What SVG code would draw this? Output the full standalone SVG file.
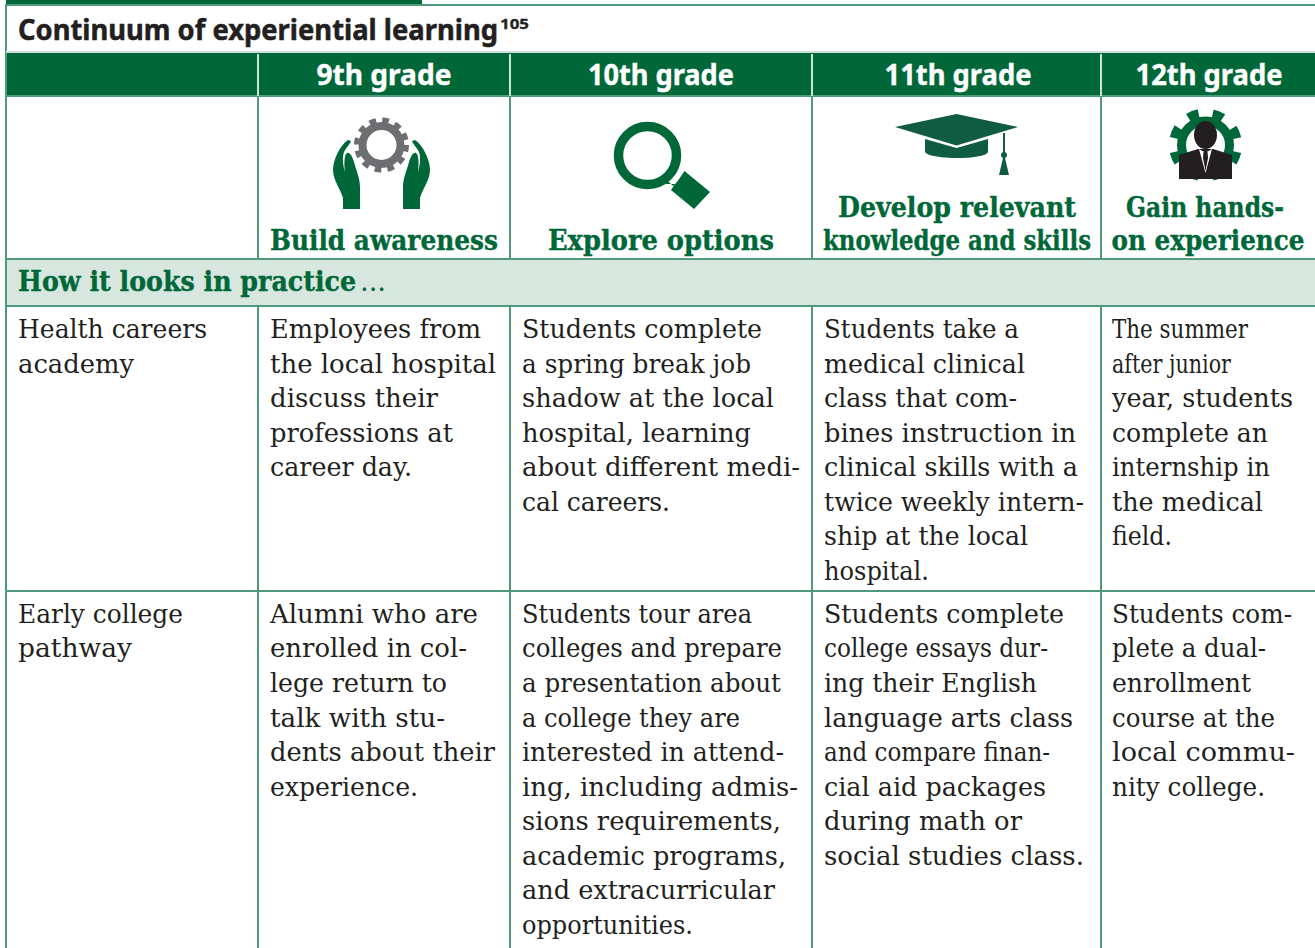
<svg xmlns="http://www.w3.org/2000/svg" width="1315" height="948" viewBox="0 0 1315 948">
<style>
.b{font-family:"DejaVu Serif","Liberation Serif",serif;font-size:26px;fill:#231f20}
.t{font-family:"Noto Sans","Liberation Sans",sans-serif;font-weight:700;font-size:28px;fill:#231f20;stroke:#231f20;stroke-width:.5}
.h{font-family:"Noto Sans","Liberation Sans",sans-serif;font-weight:700;font-size:28px;fill:#fff;stroke:#fff;stroke-width:.4;text-anchor:middle}
.g{font-family:"DejaVu Serif","Liberation Serif",serif;font-weight:700;font-size:28px;fill:#006838;stroke:#006838;stroke-width:.4}
.m{text-anchor:middle}
.l{stroke:#4f9a7b;stroke-width:2;fill:none}
.w{stroke:#cfe0d8;stroke-width:2;fill:none}
.d{fill:#006838}
.c{fill:#0f5c42}
.k{fill:#231f20}
</style>
<defs>
<path id="hand" d="M348 140C340 145 333 160 333 170C333 180 341 190 343 198V209H360V187C360 178 356 170 354 162C352 155 349 152 347 153C344 155 344 165 345 172C343 165 342 158 344 152C346 148 350 144 351 141Z"/>
</defs>
<rect width="1315" height="948" fill="#fff"/>
<g id="frame">
<rect class="d" x="6" y="0" width="416" height="5"/>
<rect x="6" y="52" width="1309" height="45" class="d"/>
<rect x="6" y="260" width="1309" height="47" fill="#d7e7e0"/>
</g>
<g id="connectors">
<path class="l" d="M6 5H1315M6 4V948M6 96H1315M6 259H1315M6 306H1315M6 591H1315M258 96V259M510 96V259M812 96V259M1101 96V259M258 306V948M510 306V948M812 306V948M1101 306V948"/>
<path class="w" d="M6 52H1315M258 54V96M510 54V96M812 54V96M1101 54V96"/>
</g>
<g id="title"><text class="t" transform="translate(18 40) scale(.92 1)" textLength="521.700" lengthAdjust="spacingAndGlyphs">Continuum of experiential learning</text><text class="t" x="500" y="29" style="font-size:15px;stroke-width:.3" textLength="29" lengthAdjust="spacingAndGlyphs">105</text></g>
<g id="grade9"><text class="h" x="384" y="85" textLength="135" lengthAdjust="spacingAndGlyphs">9th grade</text>
<use href="#hand" class="d"/>
<use href="#hand" class="d" transform="matrix(-1 0 0 1 763 0)"/>
<circle cx="381.500" cy="145" r="19" fill="none" stroke="#6d6e71" stroke-width="8"/>
<circle cx="381.500" cy="145" r="24" fill="none" stroke="#6d6e71" stroke-width="7" stroke-dasharray="6.500 6.066"/>
<text class="g m" x="384" y="250" textLength="228" lengthAdjust="spacingAndGlyphs">Build awareness</text></g>
<g id="grade10"><text class="h" x="661" y="85" textLength="146" lengthAdjust="spacingAndGlyphs">10th grade</text>
<circle cx="647.500" cy="155.500" r="29" fill="none" stroke="#006838" stroke-width="9.500"/>
<path class="d" d="M667 180L673 186L677 182L684.500 171L710 192L694 209L671 190L675 184L664 184Z"/>
<text class="g m" x="661" y="250" textLength="226" lengthAdjust="spacingAndGlyphs">Explore options</text></g>
<g id="grade11"><text class="h" x="958" y="85" textLength="147" lengthAdjust="spacingAndGlyphs">11th grade</text>
<path class="c" d="M895 127L956.500 114L1018 127L956.500 145.500Z"/>
<path class="c" d="M925 139L956.500 148L988 139V152C985 160 930 160 925 152Z"/>
<path d="M1004 133V158" stroke="#0f5c42" stroke-width="2" fill="none"/>
<circle cx="1004" cy="155" r="3" class="c"/>
<path class="c" d="M1003 158H1005L1009 175H999Z"/>
<text class="g m" x="957" y="217" textLength="238" lengthAdjust="spacingAndGlyphs">Develop relevant</text>
<text class="g m" transform="translate(957 250) scale(.75 1)" textLength="357.300" lengthAdjust="spacingAndGlyphs">knowledge and skills</text></g>
<g id="grade12"><text class="h" x="1209" y="85" textLength="147" lengthAdjust="spacingAndGlyphs">12th grade</text>
<circle cx="1205.500" cy="145" r="24" fill="none" stroke="#006838" stroke-width="9"/>
<circle cx="1205.500" cy="145" r="32" fill="none" stroke="#006838" stroke-width="9" stroke-dasharray="11 14.130" stroke-dashoffset="-7"/>
<ellipse cx="1205.500" cy="135" rx="11.500" ry="14" class="k"/>
<path class="k" d="M1179 179V155L1198 149H1213L1232 155V179Z"/>
<path fill="#fff" d="M1199 149L1205.500 173L1212 149L1209 151H1202Z"/>
<path class="k" d="M1203.500 151H1207.500L1208 158L1205.500 171L1203 158Z"/>
<text class="g m" x="1205" y="217" textLength="158" lengthAdjust="spacingAndGlyphs">Gain hands-</text>
<text class="g m" transform="translate(1208 250) scale(.77 1)" textLength="250.600" lengthAdjust="spacingAndGlyphs">on experience</text></g>
<g id="practice"><text class="g" transform="translate(18 291) scale(.77 1)" textLength="439" lengthAdjust="spacingAndGlyphs">How it looks in practice</text><text class="g" x="360" y="291" style="font-weight:400;stroke-width:0" textLength="26" lengthAdjust="spacingAndGlyphs">...</text></g>
<g id="row1">
<text class="b" x="18" y="338" textLength="189" lengthAdjust="spacingAndGlyphs">Health careers</text>
<text class="b" x="18" y="373" textLength="116" lengthAdjust="spacingAndGlyphs">academy</text>
<text class="b" x="270" y="338" textLength="211" lengthAdjust="spacingAndGlyphs">Employees from</text>
<text class="b" x="270" y="373" textLength="226" lengthAdjust="spacingAndGlyphs">the local hospital</text>
<text class="b" x="270" y="407" textLength="168" lengthAdjust="spacingAndGlyphs">discuss their</text>
<text class="b" x="270" y="442" textLength="183" lengthAdjust="spacingAndGlyphs">professions at</text>
<text class="b" x="270" y="476" textLength="142" lengthAdjust="spacingAndGlyphs">career day.</text>
<text class="b" x="522" y="338" textLength="240" lengthAdjust="spacingAndGlyphs">Students complete</text>
<text class="b" x="522" y="373" textLength="229" lengthAdjust="spacingAndGlyphs">a spring break job</text>
<text class="b" x="522" y="407" textLength="252" lengthAdjust="spacingAndGlyphs">shadow at the local</text>
<text class="b" x="522" y="442" textLength="229" lengthAdjust="spacingAndGlyphs">hospital, learning</text>
<text class="b" x="522" y="476" textLength="278" lengthAdjust="spacingAndGlyphs">about different medi-</text>
<text class="b" x="522" y="511" textLength="148" lengthAdjust="spacingAndGlyphs">cal careers.</text>
<text class="b" x="824" y="338" textLength="195" lengthAdjust="spacingAndGlyphs">Students take a</text>
<text class="b" x="824" y="373" textLength="201" lengthAdjust="spacingAndGlyphs">medical clinical</text>
<text class="b" x="824" y="407" textLength="193" lengthAdjust="spacingAndGlyphs">class that com-</text>
<text class="b" x="824" y="442" textLength="252" lengthAdjust="spacingAndGlyphs">bines instruction in</text>
<text class="b" x="824" y="476" textLength="254" lengthAdjust="spacingAndGlyphs">clinical skills with a</text>
<text class="b" x="824" y="511" textLength="260" lengthAdjust="spacingAndGlyphs">twice weekly intern-</text>
<text class="b" x="824" y="545" textLength="204" lengthAdjust="spacingAndGlyphs">ship at the local</text>
<text class="b" x="824" y="580" textLength="105" lengthAdjust="spacingAndGlyphs">hospital.</text>
<text class="b" x="1112" y="338" textLength="136" lengthAdjust="spacingAndGlyphs">The summer</text>
<text class="b" x="1112" y="373" textLength="119" lengthAdjust="spacingAndGlyphs">after junior</text>
<text class="b" x="1112" y="407" textLength="181" lengthAdjust="spacingAndGlyphs">year, students</text>
<text class="b" x="1112" y="442" textLength="156" lengthAdjust="spacingAndGlyphs">complete an</text>
<text class="b" x="1112" y="476" textLength="158" lengthAdjust="spacingAndGlyphs">internship in</text>
<text class="b" x="1112" y="511" textLength="151" lengthAdjust="spacingAndGlyphs">the medical</text>
<text class="b" x="1112" y="545" textLength="60" lengthAdjust="spacingAndGlyphs">field.</text>
</g>
<g id="row2">
<text class="b" x="18" y="623" textLength="165" lengthAdjust="spacingAndGlyphs">Early college</text>
<text class="b" x="18" y="657" textLength="114" lengthAdjust="spacingAndGlyphs">pathway</text>
<text class="b" x="270" y="623" textLength="208" lengthAdjust="spacingAndGlyphs">Alumni who are</text>
<text class="b" x="270" y="657" textLength="197" lengthAdjust="spacingAndGlyphs">enrolled in col-</text>
<text class="b" x="270" y="692" textLength="177" lengthAdjust="spacingAndGlyphs">lege return to</text>
<text class="b" x="270" y="727" textLength="175" lengthAdjust="spacingAndGlyphs">talk with stu-</text>
<text class="b" x="270" y="761" textLength="225" lengthAdjust="spacingAndGlyphs">dents about their</text>
<text class="b" x="270" y="796" textLength="148" lengthAdjust="spacingAndGlyphs">experience.</text>
<text class="b" x="522" y="623" textLength="230" lengthAdjust="spacingAndGlyphs">Students tour area</text>
<text class="b" x="522" y="657" textLength="260" lengthAdjust="spacingAndGlyphs">colleges and prepare</text>
<text class="b" x="522" y="692" textLength="259" lengthAdjust="spacingAndGlyphs">a presentation about</text>
<text class="b" x="522" y="727" textLength="218" lengthAdjust="spacingAndGlyphs">a college they are</text>
<text class="b" x="522" y="761" textLength="262" lengthAdjust="spacingAndGlyphs">interested in attend-</text>
<text class="b" x="522" y="796" textLength="276" lengthAdjust="spacingAndGlyphs">ing, including admis-</text>
<text class="b" x="522" y="830" textLength="259" lengthAdjust="spacingAndGlyphs">sions requirements,</text>
<text class="b" x="522" y="865" textLength="264" lengthAdjust="spacingAndGlyphs">academic programs,</text>
<text class="b" x="522" y="899" textLength="253" lengthAdjust="spacingAndGlyphs">and extracurricular</text>
<text class="b" x="522" y="934" textLength="171" lengthAdjust="spacingAndGlyphs">opportunities.</text>
<text class="b" x="824" y="623" textLength="240" lengthAdjust="spacingAndGlyphs">Students complete</text>
<text class="b" x="824" y="657" textLength="224" lengthAdjust="spacingAndGlyphs">college essays dur-</text>
<text class="b" x="824" y="692" textLength="213" lengthAdjust="spacingAndGlyphs">ing their English</text>
<text class="b" x="824" y="727" textLength="249" lengthAdjust="spacingAndGlyphs">language arts class</text>
<text class="b" x="824" y="761" textLength="226" lengthAdjust="spacingAndGlyphs">and compare finan-</text>
<text class="b" x="824" y="796" textLength="222" lengthAdjust="spacingAndGlyphs">cial aid packages</text>
<text class="b" x="824" y="830" textLength="198" lengthAdjust="spacingAndGlyphs">during math or</text>
<text class="b" x="824" y="865" textLength="260" lengthAdjust="spacingAndGlyphs">social studies class.</text>
<text class="b" x="1112" y="623" textLength="180" lengthAdjust="spacingAndGlyphs">Students com-</text>
<text class="b" x="1112" y="657" textLength="154" lengthAdjust="spacingAndGlyphs">plete a dual-</text>
<text class="b" x="1112" y="692" textLength="139" lengthAdjust="spacingAndGlyphs">enrollment</text>
<text class="b" x="1112" y="727" textLength="163" lengthAdjust="spacingAndGlyphs">course at the</text>
<text class="b" x="1112" y="761" textLength="183" lengthAdjust="spacingAndGlyphs">local commu-</text>
<text class="b" x="1112" y="796" textLength="153" lengthAdjust="spacingAndGlyphs">nity college.</text>
</g>
</svg>
